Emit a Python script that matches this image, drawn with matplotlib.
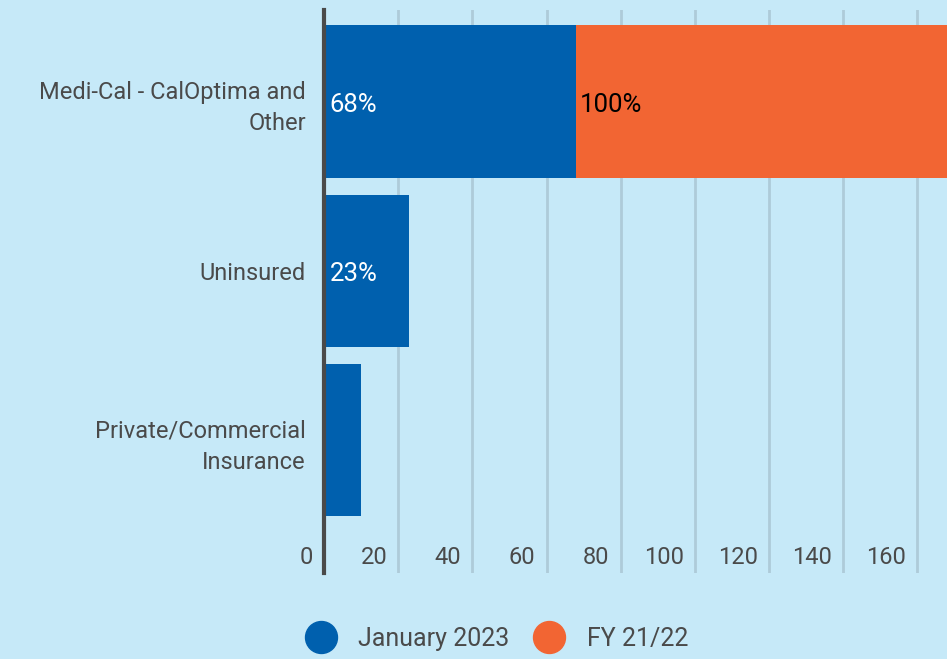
"""Coverage type bar chart (matplotlib, headless)."""

import matplotlib
matplotlib.use("Agg")
import matplotlib.pyplot as plt
import matplotlib.transforms as mtransforms
from matplotlib.lines import Line2D

categories = ["Medi-Cal - CalOptima and\nOther", "Uninsured", "Private/Commercial\nInsurance"]
jan_2023 = [68, 23, 10]
fy_21_22 = [100, 0, 0]
jan_labels = ["68%", "23%", ""]
fy_labels = ["100%", "", ""]
ticks = [0, 20, 40, 60, 80, 100, 120, 140, 160]

BG = "#c6e9f8"
BLUE = "#0060ae"
ORANGE = "#f26533"
TEXT = "#4a4a4a"
GRID = "#aecbd9"

plt.rcParams["font.family"] = ["Roboto", "DejaVu Sans"]

fig = plt.figure(figsize=(9.47, 6.59), dpi=100, facecolor=BG)
ax = fig.add_axes([324 / 947, 86 / 659, 623 / 947, 563 / 659])
ax.set_facecolor(BG)

y = list(range(len(categories)))
ax.barh(y, jan_2023, height=0.9, color=BLUE, zorder=3)
ax.barh(y, fy_21_22, left=jan_2023, height=0.9, color=ORANGE, zorder=3)

for i in y:
    if jan_labels[i]:
        ax.text(1.5, i + 0.02, jan_labels[i], color="white", fontsize=18.5, va="center", ha="left", zorder=4)
    if fy_labels[i]:
        ax.text(jan_2023[i] + 1, i + 0.02, fy_labels[i], color="black", fontsize=18.5, va="center", ha="left", zorder=4)

ax.set_xlim(0, 168)
ax.set_ylim(2.785, -0.54)

ax.set_yticks(y)
ax.set_yticklabels(categories, fontsize=17, color=TEXT, linespacing=1.45)
ax.tick_params(axis="y", length=0, pad=13)

ax.set_xticks(ticks)
ax.set_xticklabels([])
ax.tick_params(axis="x", length=0)
ax.grid(axis="x", color=GRID, linewidth=2, zorder=0)

# tick labels sit inside the plot, right-aligned against each gridline
trans = mtransforms.blended_transform_factory(ax.transData, ax.transAxes)
off = mtransforms.offset_copy(trans, fig=fig, x=-11, y=0, units="dots")
for t in ticks:
    ax.text(t, 0.028, str(t), transform=off, ha="right", va="center", fontsize=17, color=TEXT)

for s in ["top", "right", "bottom"]:
    ax.spines[s].set_visible(False)
ax.spines["left"].set_color(TEXT)
ax.spines["left"].set_linewidth(3)
ax.spines["left"].set_zorder(5)

handles = [
    Line2D([], [], marker="o", linestyle="", markersize=23, color=BLUE, label="January 2023"),
    Line2D([], [], marker="o", linestyle="", markersize=23, color=ORANGE, label="FY 21/22"),
]
fig.legend(handles=handles, loc="center", bbox_to_anchor=(492 / 947, 20 / 659), ncol=2,
           frameon=False, fontsize=18, labelcolor=TEXT, handletextpad=0.5, columnspacing=0.6)

fig.savefig("out.png", dpi=100, facecolor=BG)
